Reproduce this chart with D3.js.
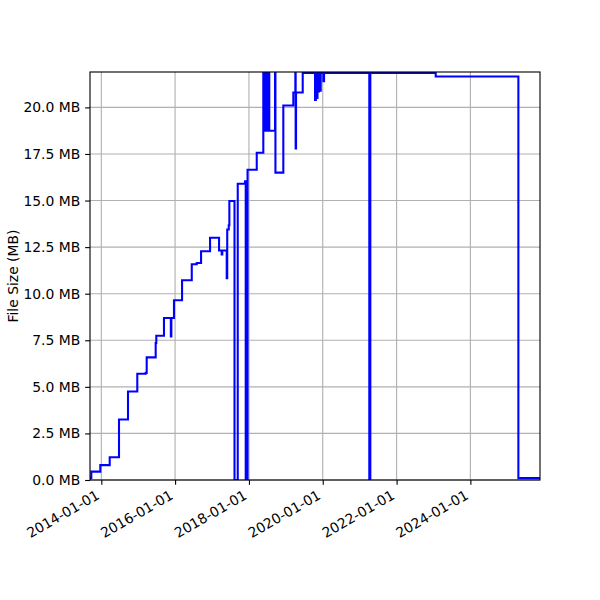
<!DOCTYPE html>
<html>
<head>
<meta charset="utf-8">
<script src="https://cdn.jsdelivr.net/npm/d3@7"></script>
<style>
  html, body { margin: 0; padding: 0; background: #fff; }
  svg { display: block; }
  text { font-family: "DejaVu Sans", sans-serif; }
</style>
</head>
<body>
<div id="chart"></div>
<script>
// ---- data ----
const dates = [
  "2013-09-11","2013-09-24","2013-12-22","2014-03-25","2014-06-25","2014-09-22",
  "2014-12-23","2015-03-16","2015-03-26","2015-06-23","2015-06-29","2015-09-13",
  "2015-11-20","2015-11-25","2015-12-21","2016-03-10","2016-06-14","2016-08-02",
  "2016-09-14","2016-12-12","2017-03-11","2017-04-06","2017-04-12","2017-05-26",
  "2017-05-31","2017-06-15","2017-06-21","2017-08-11","2017-09-12","2017-11-23",
  "2017-11-30","2017-12-18","2018-03-19",
  "2018-05-23","2018-05-30","2018-06-05","2018-06-12","2018-06-18","2018-06-25",
  "2018-07-01","2018-07-08","2018-07-14","2018-07-21",
  "2018-09-16","2018-09-20","2018-12-07","2019-03-16","2019-04-05","2019-04-08",
  "2019-04-12","2019-06-17","2019-10-17","2019-10-25","2019-11-03","2019-11-10",
  "2019-11-18","2019-11-25","2019-12-01","2019-12-12","2020-01-07","2020-01-14",
  "2021-04-06","2021-04-16","2023-01-23","2025-04-20","2025-11-20"
];
const sizesMB = [
  0.1, 0.45, 0.8, 1.22, 3.25, 4.75,
  5.7, 5.75, 6.58, 7.35, 7.74, 8.7,
  7.7, 8.7, 9.65, 10.72, 11.58, 11.65,
  12.28, 13.0, 12.32, 12.1, 12.32, 10.83,
  13.45, 13.67, 14.98, 0, 15.9, 16.03,
  0, 16.65, 17.57,
  22.5, 18.75, 22.5, 18.75, 22.5, 18.75,
  22.5, 18.75, 22.5, 18.75,
  22.5, 16.5, 20.1, 20.8, 22.5, 17.8,
  20.8, 21.85, 20.4, 21.85, 20.5, 21.85,
  20.85, 21.85, 20.9, 21.85, 21.4, 21.85,
  0, 21.85, 21.66, 0.1, 0.1
];
const yTicks = [0, 2.5, 5, 7.5, 10, 12.5, 15, 17.5, 20];
const xTickLabels = ["2014-01-01","2016-01-01","2018-01-01","2020-01-01","2022-01-01","2024-01-01"];
const yLabel = "File Size (MB)";

// ---- layout ----
const W = 600, H = 600;
const M = { left: 90, right: 540, top: 72, bottom: 480 };
const FS = 13.9;
const PT = 100 / 72;

const parse = d3.utcParse("%Y-%m-%d");
const data = dates.map((d, i) => ({ t: parse(d), v: sizesMB[i] }));

const x = d3.scaleUtc()
  .domain([parse("2013-09-11"), parse("2025-11-20")])
  .range([M.left, M.right]);
const y = d3.scaleLinear().domain([0, 21.9]).range([M.bottom, M.top]);

const svg = d3.select("#chart").append("svg")
  .attr("width", W).attr("height", H);

svg.append("defs").append("clipPath").attr("id", "clip")
  .append("rect")
  .attr("x", M.left).attr("y", M.top)
  .attr("width", M.right - M.left).attr("height", M.bottom - M.top);

const xTicks = xTickLabels.map(parse);

// grid
const grid = svg.append("g").attr("stroke", "#b0b0b0").attr("stroke-width", 0.8 * PT);
grid.selectAll(".gx").data(xTicks).join("line")
  .attr("x1", d => x(d)).attr("x2", d => x(d))
  .attr("y1", M.top).attr("y2", M.bottom);
grid.selectAll(".gy").data(yTicks).join("line")
  .attr("x1", M.left).attr("x2", M.right)
  .attr("y1", d => y(d)).attr("y2", d => y(d));

// line
const line = d3.line()
  .x(d => x(d.t)).y(d => y(d.v))
  .curve(d3.curveStepAfter);
svg.append("path")
  .datum(data)
  .attr("clip-path", "url(#clip)")
  .attr("fill", "none")
  .attr("stroke", "#0000ff")
  .attr("stroke-width", 1.5 * PT)
  .attr("stroke-linejoin", "miter")
  .attr("d", line);

// axes
const TL = 3.5 * PT;
const xAxis = d3.axisBottom(x).tickValues(xTicks)
  .tickFormat(d3.utcFormat("%Y-%m-%d")).tickSize(TL).tickPadding(TL);
const gx = svg.append("g").attr("transform", `translate(0,${M.bottom})`).call(xAxis);
gx.select(".domain").remove();
gx.selectAll(".tick line").attr("stroke", "#000").attr("stroke-width", 0.8 * PT);
gx.selectAll(".tick text")
  .attr("font-size", FS)
  .attr("fill", "#000")
  .attr("text-anchor", "end")
  .attr("y", 0).attr("dy", null)
  .attr("transform", "translate(-1.5,18) rotate(-30)");

const yAxis = d3.axisLeft(y).tickValues(yTicks)
  .tickFormat(d => d.toFixed(1) + " MB").tickSize(TL).tickPadding(TL);
const gy = svg.append("g").attr("transform", `translate(${M.left},0)`).call(yAxis);
gy.select(".domain").remove();
gy.selectAll(".tick line").attr("stroke", "#000").attr("stroke-width", 0.8 * PT);
gy.selectAll(".tick text").attr("font-size", FS).attr("fill", "#000");

// spines
svg.append("rect")
  .attr("x", M.left).attr("y", M.top)
  .attr("width", M.right - M.left).attr("height", M.bottom - M.top)
  .attr("fill", "none").attr("stroke", "#000").attr("stroke-width", 0.8 * PT);

// y label
svg.append("text")
  .attr("transform", `translate(18,${(M.top + M.bottom) / 2}) rotate(-90)`)
  .attr("text-anchor", "middle")
  .attr("font-size", FS)
  .attr("fill", "#000")
  .text(yLabel);
</script>
</body>
</html>
